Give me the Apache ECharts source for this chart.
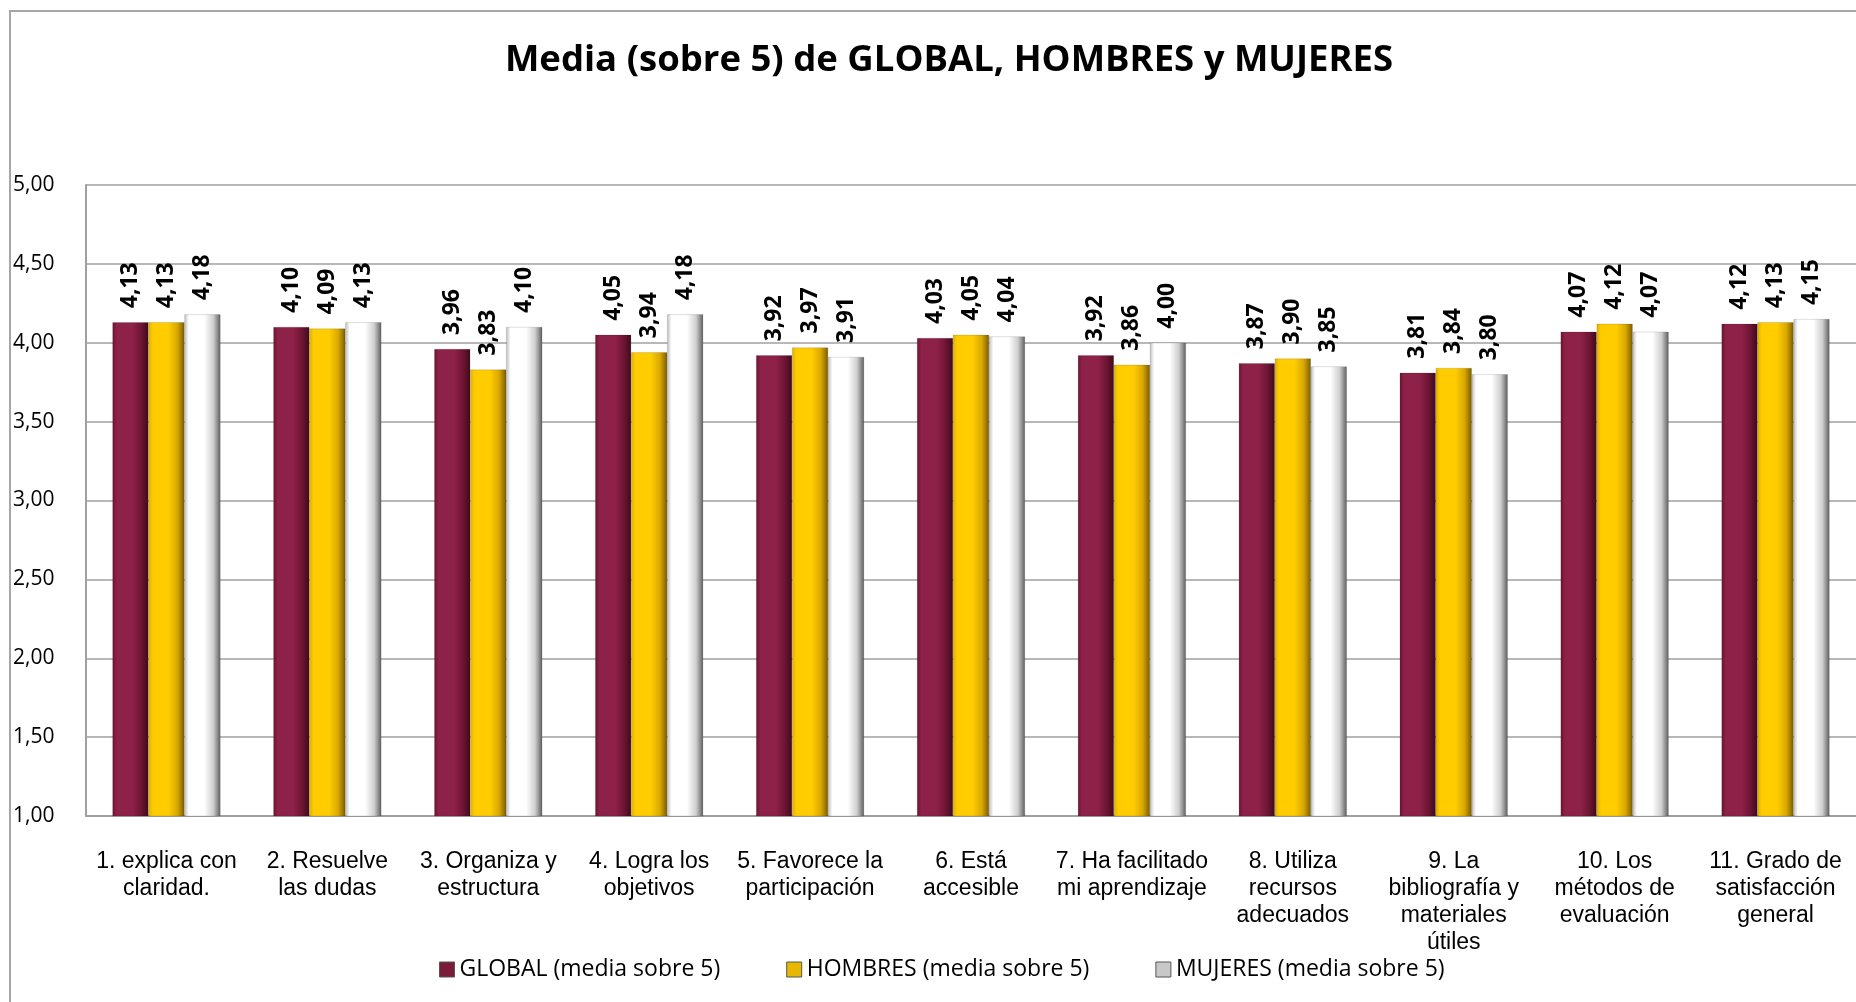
<!DOCTYPE html>
<html>
<head>
<meta charset="utf-8">
<title>Media (sobre 5)</title>
<script src="https://cdn.jsdelivr.net/npm/echarts@6/dist/echarts.min.js"></script>
<style>
    html, body { margin: 0; padding: 0; background: #fff; }
    #main { width: 1856px; height: 1002px; }
</style>
</head>
<body>
<div id="main"></div>
<script>
// categorías (preguntas)
var categorias = [
    "1. explica con\nclaridad.",
    "2. Resuelve\nlas dudas",
    "3. Organiza y\nestructura",
    "4. Logra los\nobjetivos",
    "5. Favorece la\nparticipación",
    "6. Está\naccesible",
    "7. Ha facilitado\nmi aprendizaje",
    "8. Utiliza\nrecursos\nadecuados",
    "9. La\nbibliografía y\nmateriales\nútiles",
    "10. Los\nmétodos de\nevaluación",
    "11. Grado de\nsatisfacción\ngeneral"
];
// medias de cada grupo
var globalMedia  = [4.13, 4.10, 3.96, 4.05, 3.92, 4.03, 3.92, 3.87, 3.81, 4.07, 4.12];
var hombresMedia = [4.13, 4.09, 3.83, 3.94, 3.97, 4.05, 3.86, 3.90, 3.84, 4.12, 4.13];
var mujeresMedia = [4.18, 4.13, 4.10, 4.18, 3.91, 4.04, 4.00, 3.85, 3.80, 4.07, 4.15];
var nombres = ["GLOBAL (media sobre 5)", "HOMBRES (media sobre 5)", "MUJERES (media sobre 5)"];

// degradado horizontal para imitar el relieve de Excel
function relieve(c1, c2, c3, c4) {
    return new echarts.graphic.LinearGradient(0, 0, 1, 0, [
        {offset: 0, color: c1},
        {offset: 0.12, color: c2},
        {offset: 0.55, color: c2},
        {offset: 0.8, color: c3},
        {offset: 1, color: c4}
    ]);
}
var colores = [
    relieve("#6a1430", "#8e2148", "#6e1533", "#3e0a1c"),
    relieve("#e0b000", "#ffcc00", "#d9a800", "#7a5c00"),
    relieve("#bdbdbd", "#ffffff", "#cfcfcf", "#5e5e5e")
];
var coloresLeyenda = ["#7c1a3a", "#e8b800", "#c8c8c8"];

function coma(v) {
    return v.toFixed(2).replace(".", ",");
}

var myChart = echarts.init(document.getElementById("main"));

var datos = [globalMedia, hombresMedia, mujeresMedia];
var series = [];
for (var i = 0; i < datos.length; i++) {
    series.push({
        name: nombres[i],
        type: "bar",
        barWidth: 36,
        barGap: "0%",
        data: datos[i],
        itemStyle: {
            color: colores[i],
            borderColor: "rgba(0,0,0,0.25)",
            borderWidth: 0.5
        },
        label: {
            show: true,
            position: "top",
            rotate: 90,
            align: "left",
            verticalAlign: "middle",
            distance: 14,
            fontFamily: "Open Sans",
            fontWeight: "bold",
            fontSize: 23,
            color: "#000",
            formatter: function (p) { return coma(p.value); }
        }
    });
}

var option = {
    animation: false,
    title: {
        text: "Media (sobre 5) de GLOBAL, HOMBRES y MUJERES",
        left: 944,
        top: 37,
        textAlign: "center",
        textStyle: {
            fontFamily: "Open Sans",
            fontWeight: "bold",
            fontSize: 36.5,
            color: "#000"
        }
    },
    legend: {
        data: nombres.map(function (n, k) {
            return {name: n, itemStyle: {color: coloresLeyenda[k], borderColor: "#555", borderWidth: 1}};
        }),
        left: 434,
        top: 953,
        icon: "rect",
        itemWidth: 15,
        itemHeight: 15,
        itemGap: 66,
        textStyle: {
            fontFamily: "Open Sans",
            fontSize: 23,
            color: "#000"
        }
    },
    grid: {
        left: 86,
        top: 185,
        width: 1774,
        height: 631
    },
    xAxis: {
        type: "category",
        data: categorias,
        axisLine: {lineStyle: {color: "#a0a0a0", width: 2}},
        axisTick: {show: false},
        axisLabel: {
            interval: 0,
            margin: 32,
            fontFamily: "Liberation Sans",
            fontSize: 23,
            lineHeight: 27,
            color: "#000"
        }
    },
    yAxis: {
        type: "value",
        min: 1,
        max: 5,
        interval: 0.5,
        axisLine: {show: true, lineStyle: {color: "#a0a0a0", width: 2}},
        axisTick: {show: false},
        splitLine: {lineStyle: {color: "#a0a0a0", width: 1.5}},
        axisLabel: {
            align: "left",
            margin: 73,
            fontFamily: "Open Sans",
            fontSize: 21,
            color: "#000",
            formatter: function (v) { return coma(v); }
        }
    },
    // marco exterior del gráfico
    graphic: [{
        type: "rect",
        shape: {x: 10, y: 11, width: 1900, height: 1100},
        style: {fill: "none", stroke: "#a6a6a6", lineWidth: 2},
        silent: true
    }],
    series: series
};
myChart.setOption(option);
</script>
</body>
</html>
